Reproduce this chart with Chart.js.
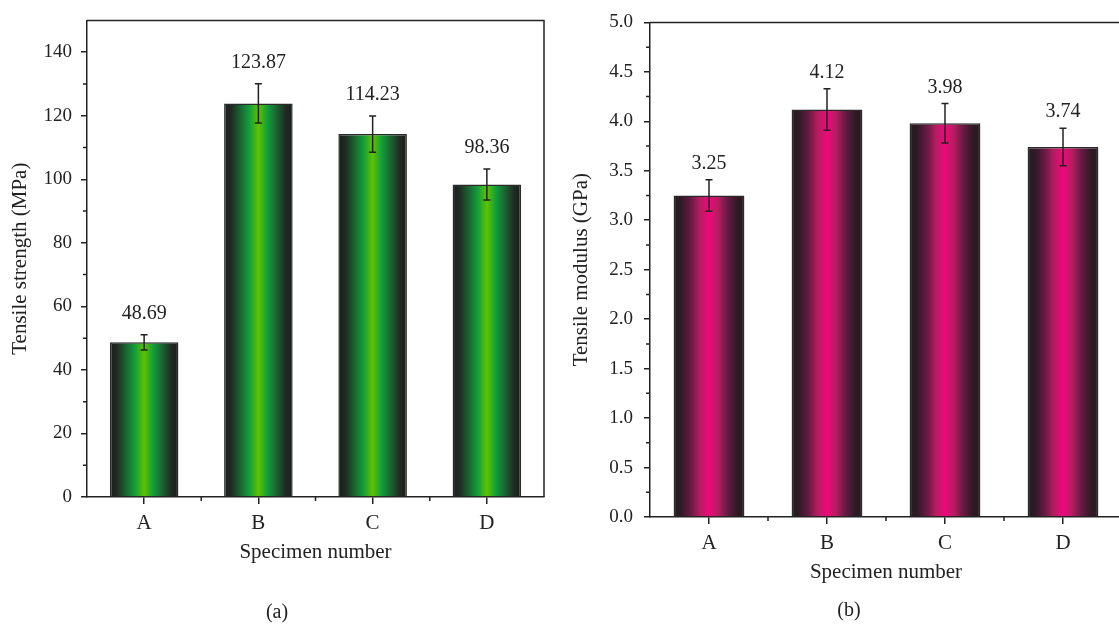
<!DOCTYPE html>
<html>
<head>
<meta charset="utf-8">
<script src="https://cdn.jsdelivr.net/npm/chart.js@4/dist/chart.umd.min.js"></script>
<style>
  html, body { margin: 0; padding: 0; background: #fff; }
  body { width: 1119px; height: 624px; overflow: hidden; position: relative; }
  canvas { position: absolute; top: 0; }
  #chartA { left: 0; }
  #chartB { left: 560px; }
  .sub { position: absolute; font-family: "Liberation Serif", serif; font-size: 20px; color: #222; transform: translate(-50%, -50%); }
</style>
</head>
<body>
<canvas id="chartA" width="560" height="624"></canvas>
<canvas id="chartB" width="572" height="624"></canvas>
<div class="sub" style="left:277px; top:611px;">(a)</div>
<div class="sub" style="left:849px; top:609px;">(b)</div>
<script>
// datos
const categorias = ["A", "B", "C", "D"];
const resistencia = [48.69, 123.87, 114.23, 98.36];
const resistenciaErr = [2.4, 6.2, 5.7, 4.9];
const modulo = [3.25, 4.12, 3.98, 3.74];
const moduloErr = [0.16, 0.21, 0.20, 0.19];
const ticksResistencia = [0, 20, 40, 60, 80, 100, 120, 140];
const ticksModulo = [0, 0.5, 1.0, 1.5, 2.0, 2.5, 3.0, 3.5, 4.0, 4.5, 5.0];

const verde = ["#1c1c1c", "#202a22", "#1a6a34", "#12a03a", "#60c100", "#12a03a", "#1a6a34", "#202a22", "#1c1c1c"];
const rosa = ["#231b1f", "#2e1a24", "#6b1a45", "#b51d5f", "#ef087c", "#b51d5f", "#6b1a45", "#2e1a24", "#231b1f"];
const posiciones = [0, 0.1, 0.25, 0.37, 0.5, 0.63, 0.75, 0.9, 1];

const fuente = "'Liberation Serif', 'Times New Roman', serif";
const negro = "#222";

function gradiente(colores) {
    return function (c) {
        let chart = c.chart;
        if (!chart.chartArea) return colores[4];
        let xs = chart.scales.x;
        let cx = xs.getPixelForValue(c.dataIndex);
        let w = xs.width / categorias.length * 0.6;
        let g = chart.ctx.createLinearGradient(cx - w / 2, 0, cx + w / 2, 0);
        colores.forEach((col, i) => g.addColorStop(posiciones[i], col));
        return g;
    };
}

function decoracion(valores, errores, ticks, labelGap, decimales) {
    return {
        id: "decoracion",
        afterDatasetsDraw(chart) {
            let ctx = chart.ctx;
            let area = chart.chartArea;
            let xs = chart.scales.x;
            let ys = chart.scales.y;
            ctx.save();
            ctx.strokeStyle = negro;
            ctx.lineWidth = 1.5;

            // marco superior y derecho
            ctx.beginPath();
            ctx.moveTo(area.left, area.top);
            ctx.lineTo(area.right, area.top);
            ctx.lineTo(area.right, area.bottom);
            ctx.stroke();

            // ticks menores eje y
            ctx.beginPath();
            for (let i = 0; i < ticks.length - 1; i++) {
                let y = ys.getPixelForValue((ticks[i] + ticks[i + 1]) / 2);
                ctx.moveTo(area.left, y);
                ctx.lineTo(area.left - 4, y);
            }
            // ticks menores eje x
            for (let i = 1; i < categorias.length; i++) {
                let x = (xs.getPixelForValue(i - 1) + xs.getPixelForValue(i)) / 2;
                ctx.moveTo(x, area.bottom);
                ctx.lineTo(x, area.bottom + 4);
            }
            ctx.stroke();

            // barras de error y etiquetas
            let meta = chart.getDatasetMeta(0);
            ctx.font = "20px " + fuente;
            ctx.fillStyle = negro;
            ctx.textAlign = "center";
            ctx.textBaseline = "middle";
            meta.data.forEach((bar, i) => {
                let x = bar.x;
                let top = ys.getPixelForValue(valores[i] + errores[i]);
                let bot = ys.getPixelForValue(valores[i] - errores[i]);
                ctx.beginPath();
                ctx.moveTo(x, top);
                ctx.lineTo(x, bot);
                ctx.moveTo(x - 3.5, top);
                ctx.lineTo(x + 3.5, top);
                ctx.moveTo(x - 3.5, bot);
                ctx.lineTo(x + 3.5, bot);
                ctx.stroke();
                ctx.fillText(valores[i].toFixed(decimales), x, top - labelGap);
            });
            ctx.restore();
        }
    };
}

function crearGrafico(id, opts) {
    let ctx = document.getElementById(id).getContext("2d");
    return new Chart(ctx, {
        type: "bar",
        data: {
            labels: categorias,
            datasets: [{
                data: opts.valores,
                backgroundColor: gradiente(opts.colores),
                borderColor: "#2a2a2a",
                borderWidth: 1.5,
                barPercentage: 0.6,
                categoryPercentage: 1
            }]
        },
        options: {
            responsive: false,
            animation: false,
            devicePixelRatio: 1,
            layout: { padding: { top: opts.top, right: opts.right, left: 0, bottom: 0 } },
            plugins: { legend: { display: false }, tooltip: { enabled: false } },
            scales: {
                x: {
                    offset: true,
                    border: { display: true, color: negro, width: 1.5 },
                    grid: { offset: false, drawOnChartArea: false, drawTicks: true, tickLength: 7, color: negro, lineWidth: 1.5 },
                    ticks: { color: negro, padding: 7, font: { family: fuente, size: 21 } },
                    title: {
                        display: true, text: "Specimen number", color: negro,
                        font: { family: fuente, size: 21 },
                        padding: { top: 0, bottom: opts.xTitlePad }
                    },
                    afterFit: s => { s.height = opts.xHeight; }
                },
                y: {
                    min: 0,
                    max: opts.max,
                    border: { display: true, color: negro, width: 1.5 },
                    grid: { drawOnChartArea: false, drawTicks: true, tickLength: 6, color: negro, lineWidth: 1.5 },
                    ticks: {
                        color: negro, padding: opts.tickPad,
                        font: { family: fuente, size: 19 },
                        callback: v => v.toFixed(opts.tickDec)
                    },
                    afterBuildTicks: s => { s.ticks = opts.ticks.map(v => ({ value: v })); },
                    title: {
                        display: true, text: opts.yTitle, color: negro,
                        font: { family: fuente, size: 21 },
                        padding: { top: opts.yTitlePad, bottom: 0 }
                    },
                    afterFit: s => { s.width = opts.yWidth; }
                }
            }
        },
        plugins: [decoracion(opts.valores, opts.errores, opts.ticks, opts.labelGap, 2)]
    });
}

crearGrafico("chartA", {
    valores: resistencia, errores: resistenciaErr, ticks: ticksResistencia,
    colores: verde, max: 150, tickDec: 0, yTitle: "Tensile strength (MPa)",
    top: 10, right: 16, yWidth: 87, xHeight: 127, xTitlePad: 59, yTitlePad: 8,
    tickPad: 9, labelGap: 21
});

crearGrafico("chartB", {
    valores: modulo, errores: moduloErr, ticks: ticksModulo,
    colores: rosa, max: 5, tickDec: 1, yTitle: "Tensile modulus (GPa)",
    top: 20, right: 10, yWidth: 90, xHeight: 107, xTitlePad: 39, yTitlePad: 9,
    tickPad: 11, labelGap: 16
});
</script>
</body>
</html>
